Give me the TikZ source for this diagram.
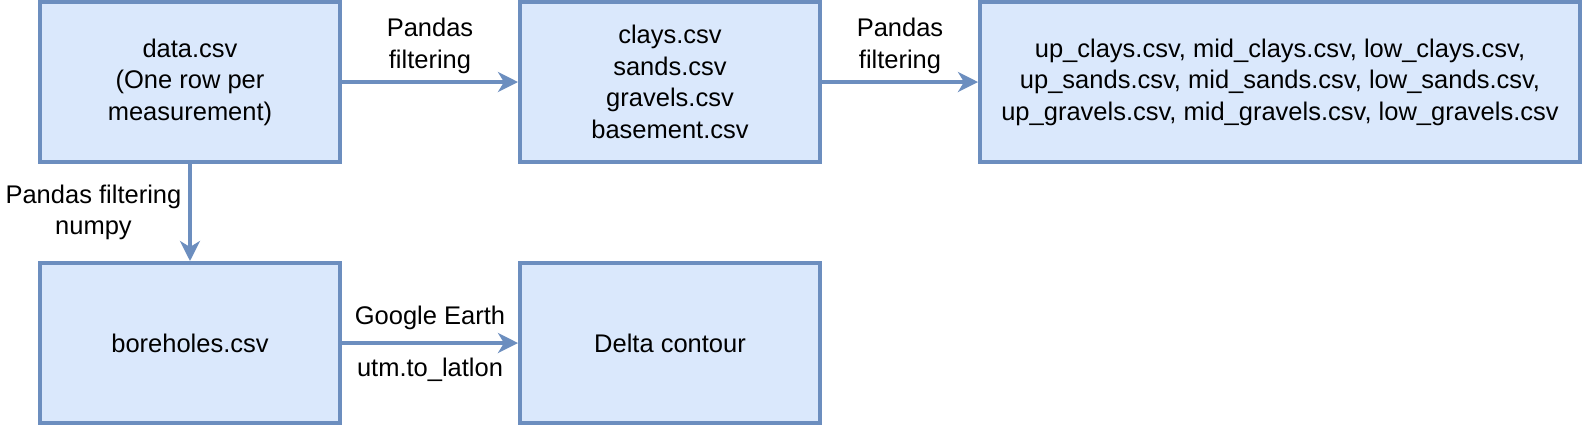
\documentclass[tikz,border=0pt]{standalone}
\usepackage{fontspec}
\setmainfont{Liberation Sans}
\usetikzlibrary{positioning, arrows.meta}

\definecolor{boxline}{HTML}{6C8EBF}
\definecolor{boxfill}{HTML}{DAE8FC}

\begin{document}
\begin{tikzpicture}[x=0.5pt,y=-0.5pt,
  font=\fontsize{12.75}{15.75}\selectfont,
  fichier/.style={draw=boxline, fill=boxfill, line width=2pt, align=center,
    minimum width=150pt, minimum height=80pt, inner sep=0pt},
  fleche/.style={draw=boxline, line width=2pt,
    -{Stealth[length=10pt,width=10pt,inset=3pt]}},
  etiq/.style={align=center, text=black}]
\useasboundingbox (0,0) rectangle (1583,425);

% les fichiers
\node[fichier] (data) at (190,82) {data.csv\\(One row per\\measurement)};
\node[fichier] (clays) at (670,82) {clays.csv\\sands.csv\\gravels.csv\\basement.csv};
\node[fichier, minimum width=300pt] (split) at (1280,82)
  {up\_clays.csv, mid\_clays.csv, low\_clays.csv,\\
   up\_sands.csv, mid\_sands.csv, low\_sands.csv,\\
   up\_gravels.csv, mid\_gravels.csv, low\_gravels.csv};
\node[fichier] (boreholes) at (190,343) {boreholes.csv};
\node[fichier] (delta) at (670,343) {Delta contour};

% les fleches
\draw[fleche] (data) -- node[etiq, above]{Pandas\\filtering} (clays);
\draw[fleche] (clays) -- node[etiq, above]{Pandas\\filtering} (split);
\draw[fleche] (data) -- node[etiq, left]{Pandas filtering\\numpy} (boreholes);
\draw[fleche] (boreholes) -- node[etiq, above=2.5pt]{Google Earth}
  node[etiq, below=3pt]{utm.to\_latlon} (delta);

\end{tikzpicture}
\end{document}
